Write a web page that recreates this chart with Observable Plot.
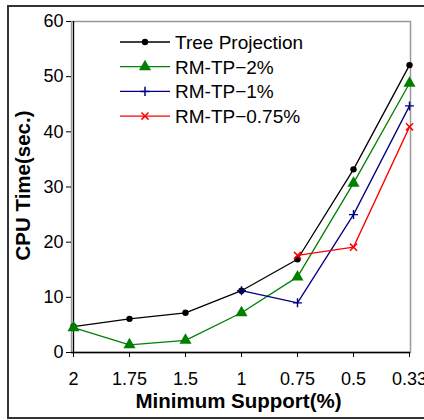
<!DOCTYPE html>
<html>
<head>
<meta charset="utf-8">
<script src="https://cdn.jsdelivr.net/npm/d3@7"></script>
<script src="https://cdn.jsdelivr.net/npm/@observablehq/plot@0.6"></script>
<style>
  html, body { margin: 0; padding: 0; background: #fff; }
  #wrap { position: relative; width: 424px; height: 420px; overflow: hidden; }
  #border { position: absolute; left: 7px; top: 5px; width: 440px; height: 414px;
            border: 2px solid #333; box-sizing: border-box; pointer-events: none; }
  svg { font-family: "Liberation Sans", Arial, sans-serif; }
</style>
</head>
<body>
<div id="wrap"><div id="border"></div></div>
<script>
// Minimum support thresholds (%), in the order plotted
const supports = ["2", "1.75", "1.5", "1", "0.75", "0.5", "0.33"];

// CPU time (sec.) per method
const treeProjection = [4.7, 6.1, 7.2, 11.2, 16.9, 33.2, 52.1];
const rmTp2 = [4.5, 1.4, 2.2, 7.2, 13.7, 30.7, 48.8];
const rmTp1Supports = ["1", "0.75", "0.5", "0.33"];
const rmTp1 = [11.2, 9.0, 25.0, 44.7];
const rmTp075Supports = ["0.75", "0.5", "0.33"];
const rmTp075 = [17.6, 19.1, 40.9];

const yTicks = [0, 10, 20, 30, 40, 50, 60];

const seriesNames = ["Tree Projection", "RM-TP\u22122%", "RM-TP\u22121%", "RM-TP\u22120.75%"];
const seriesColors = ["#000000", "#008000", "#000080", "#ff0000"];

const rows = (xs, ys, name) => xs.map((s, i) => ({support: s, time: ys[i], series: name}));
const treeRows = rows(supports, treeProjection, seriesNames[0]);
const rm2Rows = rows(supports, rmTp2, seriesNames[1]);
const rm1Rows = rows(rmTp1Supports, rmTp1, seriesNames[2]);
const rm075Rows = rows(rmTp075Supports, rmTp075, seriesNames[3]);

const lineOpts = (c) => ({x: "support", y: "time", stroke: c, strokeWidth: 1.3});

const chart = Plot.plot({
  width: 424,
  height: 420,
  marginLeft: 71,
  marginRight: 14,
  marginTop: 21,
  marginBottom: 68,
  style: {fontFamily: "Liberation Sans, Arial, sans-serif", fontSize: "18px", color: "#000", background: "transparent"},
  x: {type: "point", domain: supports, padding: 0},
  y: {domain: [0, 60]},
  marks: [
    Plot.frame({stroke: "#999", strokeWidth: 1.5}),
    Plot.axisX({ticks: supports, tickSize: 5, tickPadding: 15, label: null, fontSize: 18, stroke: "#000"}),
    Plot.axisY({ticks: yTicks, tickSize: 5, tickPadding: 3, label: null, fontSize: 18, stroke: "#000"}),
    Plot.ruleY([0], {stroke: "#000", strokeWidth: 1.3}),
    Plot.ruleX([supports[0]], {stroke: "#000", strokeWidth: 1.3}),
    Plot.line(treeRows, lineOpts(seriesColors[0])),
    Plot.line(rm2Rows, lineOpts(seriesColors[1])),
    Plot.line(rm1Rows, lineOpts(seriesColors[2])),
    Plot.line(rm075Rows, lineOpts(seriesColors[3])),
    Plot.dot(treeRows, {x: "support", y: "time", symbol: "circle", r: 3.2, fill: seriesColors[0]}),
    Plot.dot(rm2Rows, {x: "support", y: "time", symbol: "triangle", r: 4.5, fill: seriesColors[1]}),
    Plot.dot(rm1Rows, {x: "support", y: "time", symbol: "plus", r: 3, stroke: seriesColors[2], strokeWidth: 1.4}),
    Plot.dot(rm075Rows, {x: "support", y: "time", symbol: "times", r: 3.3, stroke: seriesColors[3], strokeWidth: 1.5})
  ]
});

const svg = d3.select(chart);
const xs = chart.scale("x"), ys = chart.scale("y");
const xMid = (xs.range[0] + xs.range[1]) / 2;
const yMid = (ys.range[0] + ys.range[1]) / 2;

// Axis titles
svg.append("text")
  .attr("x", xMid - 2).attr("y", ys.range[0] + 56)
  .attr("text-anchor", "middle")
  .attr("font-weight", "bold").attr("font-size", 20.5)
  .text("Minimum Support(%)");
svg.append("text")
  .attr("transform", `translate(30,${yMid - 1}) rotate(-90)`)
  .attr("text-anchor", "middle")
  .attr("font-weight", "bold").attr("font-size", 20.5)
  .text("CPU Time(sec.)");

// Legend inside the plot area
const symbols = [d3.symbolCircle, d3.symbolTriangle, d3.symbolPlus, d3.symbolTimes];
const symSizes = [32, 64, 30, 34];
const filled = [true, true, false, false];
const legend = svg.append("g").attr("transform", `translate(120,42)`);
seriesNames.forEach((name, i) => {
  const g = legend.append("g").attr("transform", `translate(0,${i * 24.7})`);
  g.append("line").attr("x1", 0).attr("x2", 50).attr("stroke", seriesColors[i]).attr("stroke-width", 1.3);
  g.append("path")
    .attr("d", d3.symbol(symbols[i], symSizes[i])())
    .attr("transform", "translate(25,0)")
    .attr("fill", filled[i] ? seriesColors[i] : "none")
    .attr("stroke", filled[i] ? "none" : seriesColors[i])
    .attr("stroke-width", 1.5);
  g.append("text").attr("x", 55).attr("dy", "0.36em")
    .attr("text-anchor", "start").attr("font-size", 19).text(name);
});

document.getElementById("wrap").prepend(chart);
</script>
</body>
</html>
